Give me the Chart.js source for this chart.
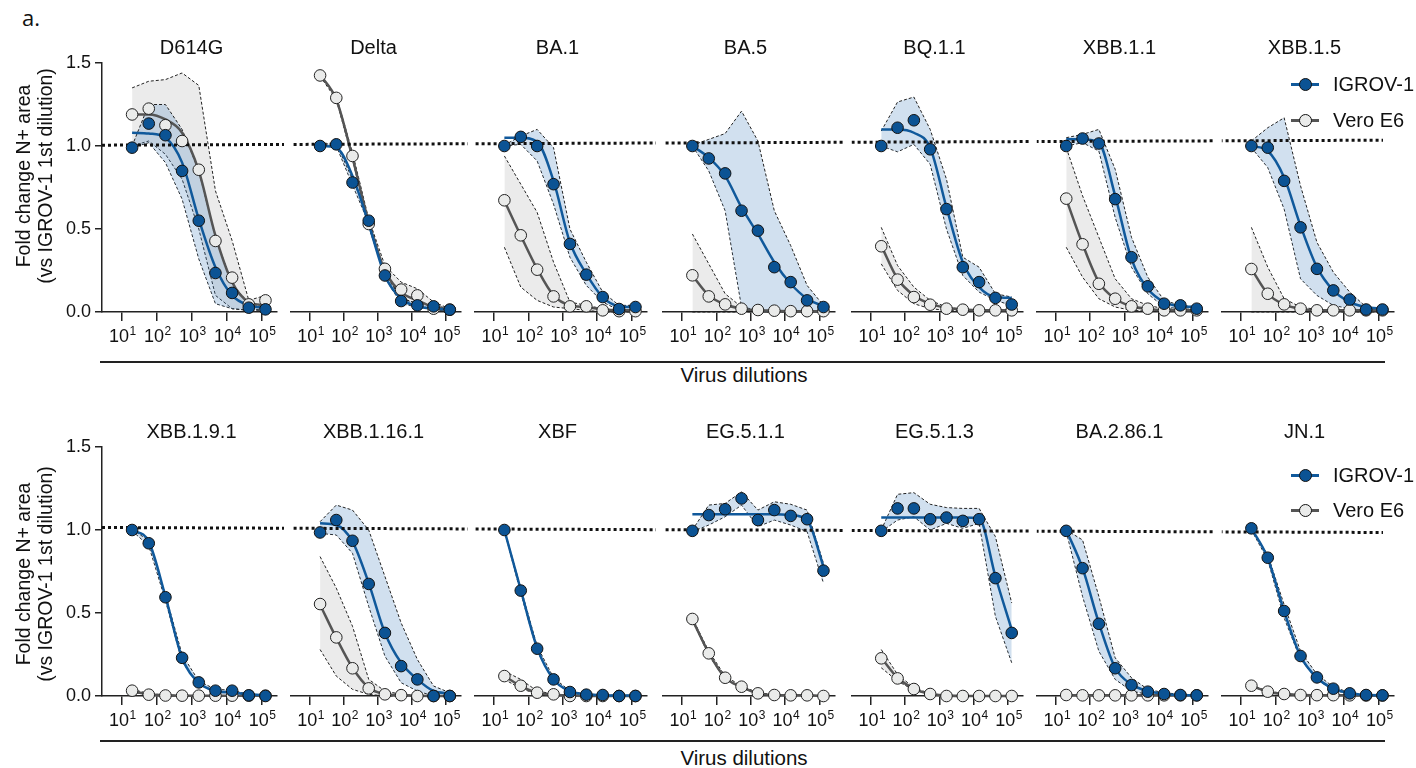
<!DOCTYPE html>
<html>
<head>
<meta charset="utf-8">
<script src="https://cdn.jsdelivr.net/npm/chart.js@4.4.0/dist/chart.umd.min.js"></script>
<style>
  body { margin: 0; width: 1416px; height: 768px; background: #fff; position: relative; overflow: hidden;
         font-family: "Liberation Sans", Arial, sans-serif; color: #111; }
  canvas { position: absolute; }
  .txt { position: absolute; white-space: nowrap; font-size: 20px; line-height: 20px; z-index: 2; }
  .title { text-align: center; width: 180px; }
  .ylab { position: absolute; width: 260px; text-align: center; font-size: 19.5px; line-height: 22px;
          transform: rotate(-90deg); white-space: nowrap; z-index: 2; }
  .hline { position: absolute; height: 1.5px; background: #222; left: 100px; width: 1285px; }
  .lg-line { position: absolute; width: 28px; height: 3px; z-index: 2; }
  .lg-dot { position: absolute; width: 11px; height: 11px; border-radius: 50%; border: 1px solid #111; z-index: 3; }
</style>
</head>
<body>
<div class="txt" style="left:22px;top:6px;font-family:'Open Sans',sans-serif;font-size:22px;line-height:22px;">a.</div>
<script>
const variants = ['D614G', 'Delta', 'BA.1', 'BA.5', 'BQ.1.1', 'XBB.1.1', 'XBB.1.5',
                  'XBB.1.9.1', 'XBB.1.16.1', 'XBF', 'EG.5.1.1', 'EG.5.1.3', 'BA.2.86.1', 'JN.1'];
const dilutions = [20, 60, 180, 540, 1620, 4860, 14580, 43740, 131220];
const xTicks = [10, 100, 1000, 10000, 100000];
const yTicks = [0, 0.5, 1.0, 1.5];
const seriesNames = ['IGROV-1', 'Vero E6'];
// dotted reference line, value at left end and right end of each row
const refLine = [[1.005, 1.035], [1.015, 0.985]];

const igrovMean = [
  [0.99, 1.135, 1.065, 0.85, 0.55, 0.235, 0.115, 0.026, 0.016],
  [1.0, 1.01, 0.78, 0.55, 0.22, 0.066, 0.04, 0.034, 0.014],
  [1.0, 1.055, 1.0, 0.77, 0.41, 0.225, 0.09, 0.018, 0.03],
  [1.0, 0.925, 0.835, 0.61, 0.49, 0.27, 0.18, 0.07, 0.03],
  [1.0, 1.11, 1.155, 0.98, 0.62, 0.27, 0.18, 0.085, 0.045],
  [1.0, 1.045, 1.015, 0.68, 0.33, 0.155, 0.05, 0.04, 0.02],
  [1.0, 0.99, 0.79, 0.51, 0.26, 0.13, 0.075, 0.015, 0.015],
  [1.0, 0.92, 0.595, 0.23, 0.082, 0.032, 0.032, 0.004, 0.0],
  [0.985, 1.06, 0.935, 0.675, 0.38, 0.18, 0.1, 0.0, 0.0],
  [1.0, 0.635, 0.285, 0.1, 0.024, 0.008, 0.006, 0.0, 0.0],
  [0.995, 1.09, 1.125, 1.19, 1.06, 1.12, 1.085, 1.065, 0.755],
  [0.995, 1.13, 1.13, 1.065, 1.075, 1.055, 1.065, 0.71, 0.38],
  [0.995, 0.77, 0.435, 0.167, 0.066, 0.026, 0.012, 0.006, 0.004],
  [1.01, 0.833, 0.512, 0.241, 0.112, 0.044, 0.016, 0.006, 0.004]
];
const igrovFit = [
  [1.08, 1.075, 1.05, 0.9, 0.56, 0.27, 0.1, 0.04, 0.025],
  [1.0, 0.99, 0.82, 0.53, 0.22, 0.08, 0.035, 0.02, 0.015],
  [1.05, 1.05, 1.025, 0.79, 0.42, 0.23, 0.09, 0.035, 0.03],
  [1.0, 0.93, 0.82, 0.63, 0.47, 0.3, 0.17, 0.08, 0.035],
  [1.1, 1.1, 1.08, 0.99, 0.63, 0.3, 0.15, 0.09, 0.085],
  [1.04, 1.04, 1.02, 0.7, 0.32, 0.14, 0.06, 0.035, 0.03],
  [1.0, 0.97, 0.81, 0.52, 0.27, 0.13, 0.06, 0.03, 0.02],
  [1.0, 0.93, 0.6, 0.23, 0.08, 0.03, 0.02, 0.01, 0.005],
  [1.04, 1.03, 0.93, 0.68, 0.38, 0.2, 0.1, 0.03, 0.015],
  [1.0, 0.64, 0.29, 0.1, 0.03, 0.01, 0.005, 0.003, 0.002],
  [1.095, 1.095, 1.095, 1.095, 1.095, 1.095, 1.09, 1.06, 0.78],
  [1.075, 1.075, 1.075, 1.075, 1.075, 1.075, 1.07, 0.72, 0.4],
  [1.0, 0.77, 0.44, 0.17, 0.07, 0.03, 0.012, 0.006, 0.004],
  [1.01, 0.83, 0.51, 0.24, 0.11, 0.045, 0.017, 0.007, 0.004]
];
const igrovHi = [
  [1.0, 1.25, 1.25, 1.1, 0.85, 0.45, 0.17, 0.05, 0.03],
  [1.01, 1.015, 0.8, 0.565, 0.235, 0.085, 0.05, 0.04, 0.02],
  [1.005, 1.06, 1.1, 0.99, 0.5, 0.3, 0.12, 0.04, 0.04],
  [1.005, 1.04, 1.075, 1.21, 1.03, 0.61, 0.4, 0.16, 0.04],
  [1.09, 1.265, 1.295, 1.1, 0.8, 0.33, 0.27, 0.11, 0.09],
  [1.05, 1.07, 1.1, 0.86, 0.45, 0.21, 0.07, 0.04, 0.03],
  [1.03, 1.11, 1.17, 0.76, 0.42, 0.24, 0.12, 0.03, 0.02],
  [1.005, 0.935, 0.61, 0.25, 0.09, 0.04, 0.035, 0.01, 0.005],
  [1.05, 1.15, 1.12, 1.0, 0.72, 0.44, 0.22, 0.06, 0.02],
  [1.005, 0.65, 0.3, 0.11, 0.03, 0.012, 0.008, 0.004, 0.003],
  [1.0, 1.15, 1.16, 1.23, 1.12, 1.17, 1.155, 1.12, 0.8],
  [1.0, 1.215, 1.225, 1.155, 1.135, 1.13, 1.13, 0.96, 0.56],
  [1.0, 0.94, 0.6, 0.23, 0.11, 0.04, 0.02, 0.01, 0.008],
  [1.01, 0.85, 0.55, 0.27, 0.13, 0.055, 0.02, 0.01, 0.005]
];
const igrovLo = [
  [0.99, 1.02, 0.9, 0.68, 0.32, 0.05, 0.02, 0.01, 0.01],
  [1.0, 1.0, 0.765, 0.535, 0.205, 0.05, 0.03, 0.02, 0.008],
  [1.0, 1.01, 0.91, 0.65, 0.33, 0.16, 0.06, 0.01, 0.01],
  [1.0, 0.85, 0.61, 0.03, 0.0, 0.0, 0.0, 0.0, 0.0],
  [1.0, 0.965, 1.01, 0.89, 0.5, 0.22, 0.12, 0.07, 0.04],
  [1.0, 1.02, 0.97, 0.57, 0.27, 0.11, 0.03, 0.02, 0.015],
  [0.99, 0.87, 0.62, 0.2, 0.1, 0.04, 0.02, 0.01, 0.01],
  [0.995, 0.905, 0.575, 0.205, 0.07, 0.022, 0.022, 0.0, 0.0],
  [0.98, 0.97, 0.86, 0.54, 0.24, 0.08, 0.03, 0.0, 0.0],
  [0.995, 0.62, 0.27, 0.09, 0.018, 0.004, 0.003, 0.0, 0.0],
  [0.99, 1.03, 1.08, 1.15, 1.02, 1.06, 1.03, 0.99, 0.68],
  [0.99, 1.06, 1.08, 1.0, 1.04, 1.01, 1.04, 0.48, 0.2],
  [0.99, 0.6, 0.27, 0.1, 0.03, 0.01, 0.005, 0.003, 0.002],
  [1.0, 0.82, 0.47, 0.22, 0.1, 0.035, 0.012, 0.004, 0.002]
];

const veroMean = [
  [1.19, 1.225, 1.125, 1.03, 0.857, 0.428, 0.207, 0.046, 0.07],
  [1.425, 1.29, 0.94, 0.53, 0.26, 0.135, 0.10, 0.02, 0.014],
  [0.673, 0.462, 0.255, 0.094, 0.034, 0.034, 0.01, 0.005, 0.005],
  [0.221, 0.094, 0.046, 0.02, 0.012, 0.008, 0.005, 0.005, 0.005],
  [0.396, 0.195, 0.09, 0.044, 0.02, 0.014, 0.01, 0.01, 0.01],
  [0.683, 0.408, 0.17, 0.08, 0.034, 0.02, 0.01, 0.01, 0.01],
  [0.259, 0.11, 0.046, 0.02, 0.01, 0.01, 0.01, 0.01, 0.01],
  [0.032, 0.008, 0.003, 0.002, 0.002, 0.002, 0.002, 0.002, 0.002],
  [0.554, 0.353, 0.167, 0.046, 0.01, 0.005, 0.0, 0.0, 0.0],
  [0.12, 0.062, 0.02, 0.01, 0.0, 0.0, 0.0, 0.0, 0.0],
  [0.464, 0.257, 0.11, 0.056, 0.016, 0.006, 0.004, 0.004, 0.0],
  [0.227, 0.106, 0.042, 0.012, 0.0, 0.0, 0.0, 0.0, 0.0],
  [0.006, 0.004, 0.004, 0.004, 0.004, 0.004, 0.004, 0.004, 0.004],
  [0.062, 0.026, 0.012, 0.006, 0.005, 0.005, 0.004, 0.003, 0.003]
];
const veroFit = [
  [1.19, 1.19, 1.16, 1.08, 0.85, 0.46, 0.18, 0.06, 0.04],
  [1.43, 1.28, 0.93, 0.54, 0.25, 0.12, 0.07, 0.03, 0.015],
  [0.67, 0.46, 0.26, 0.1, 0.04, 0.03, 0.015, 0.01, 0.01],
  [0.22, 0.1, 0.045, 0.02, 0.01, 0.008, 0.005, 0.005, 0.005],
  [0.4, 0.2, 0.1, 0.05, 0.025, 0.015, 0.01, 0.01, 0.01],
  [0.68, 0.41, 0.18, 0.08, 0.035, 0.02, 0.01, 0.01, 0.01],
  [0.26, 0.11, 0.045, 0.02, 0.01, 0.01, 0.01, 0.01, 0.01],
  [0.03, 0.01, 0.004, 0.002, 0.002, 0.002, 0.002, 0.002, 0.002],
  [0.55, 0.35, 0.17, 0.05, 0.012, 0.005, 0.002, 0.0, 0.0],
  [0.12, 0.06, 0.02, 0.008, 0.003, 0.0, 0.0, 0.0, 0.0],
  [0.46, 0.26, 0.11, 0.055, 0.016, 0.006, 0.004, 0.004, 0.0],
  [0.23, 0.11, 0.045, 0.012, 0.003, 0.0, 0.0, 0.0, 0.0],
  [0.006, 0.004, 0.004, 0.004, 0.004, 0.004, 0.004, 0.004, 0.004],
  [0.062, 0.026, 0.012, 0.006, 0.005, 0.005, 0.004, 0.003, 0.003]
];
const veroHi = [
  [1.35, 1.39, 1.4, 1.44, 1.365, 0.73, 0.43, 0.07, 0.1],
  [1.43, 1.3, 0.96, 0.56, 0.28, 0.18, 0.14, 0.06, 0.02],
  [0.94, 0.77, 0.6, 0.3, 0.06, 0.04, 0.02, 0.01, 0.01],
  [0.47, 0.29, 0.11, 0.03, 0.012, 0.008, 0.005, 0.005, 0.005],
  [0.51, 0.28, 0.15, 0.07, 0.03, 0.015, 0.01, 0.01, 0.01],
  [0.99, 0.7, 0.45, 0.2, 0.08, 0.04, 0.02, 0.015, 0.01],
  [0.51, 0.27, 0.08, 0.03, 0.015, 0.01, 0.01, 0.01, 0.01],
  [0.04, 0.015, 0.006, 0.004, 0.003, 0.003, 0.003, 0.003, 0.003],
  [0.84, 0.65, 0.42, 0.1, 0.03, 0.01, 0.003, 0.0, 0.0],
  [0.15, 0.1, 0.03, 0.012, 0.004, 0.0, 0.0, 0.0, 0.0],
  [0.47, 0.27, 0.12, 0.06, 0.02, 0.008, 0.005, 0.005, 0.0],
  [0.28, 0.13, 0.05, 0.015, 0.004, 0.0, 0.0, 0.0, 0.0],
  [0.006, 0.004, 0.004, 0.004, 0.004, 0.004, 0.004, 0.004, 0.004],
  [0.065, 0.03, 0.014, 0.007, 0.005, 0.005, 0.004, 0.003, 0.003]
];
const veroLo = [
  [1.0, 1.03, 0.95, 0.8, 0.5, 0.1, 0.02, 0.01, 0.02],
  [1.42, 1.28, 0.92, 0.51, 0.23, 0.08, 0.05, 0.01, 0.01],
  [0.39, 0.15, 0.07, 0.03, 0.02, 0.01, 0.0, 0.0, 0.0],
  [0.0, 0.0, 0.0, 0.0, 0.0, 0.0, 0.0, 0.0, 0.0],
  [0.29, 0.13, 0.05, 0.02, 0.01, 0.01, 0.01, 0.01, 0.01],
  [0.39, 0.21, 0.08, 0.03, 0.01, 0.005, 0.005, 0.005, 0.005],
  [0.0, 0.0, 0.0, 0.0, 0.0, 0.0, 0.0, 0.0, 0.0],
  [0.025, 0.004, 0.0, 0.0, 0.0, 0.0, 0.0, 0.0, 0.0],
  [0.28, 0.12, 0.04, 0.01, 0.0, 0.0, 0.0, 0.0, 0.0],
  [0.1, 0.045, 0.012, 0.005, 0.0, 0.0, 0.0, 0.0, 0.0],
  [0.455, 0.245, 0.1, 0.05, 0.012, 0.004, 0.003, 0.003, 0.0],
  [0.17, 0.09, 0.035, 0.01, 0.0, 0.0, 0.0, 0.0, 0.0],
  [0.004, 0.003, 0.003, 0.003, 0.003, 0.003, 0.003, 0.003, 0.003],
  [0.058, 0.022, 0.01, 0.005, 0.004, 0.004, 0.003, 0.002, 0.002]
];

// layout of the panels (page pixels)
const tick1 = [122, 304, 488, 676, 865, 1050, 1235]; // where 10^1 sits in each column
const decade = 35.7;
const rowTop = [63, 447];   // pixel of y = 1.5
const plotH = 249;
const plotW = 179;
const dotStart = 102, dotEnd = 1383;

const BLUE = '#0b5394';
const FONT = '"Liberation Sans", Arial, sans-serif';
Chart.defaults.font.family = FONT;
Chart.defaults.color = '#111';

function pts(arr) {
  return dilutions.map((d, i) => ({ x: d, y: arr[i] }));
}

function addText(text, cls, left, top, extra) {
  const el = document.createElement('div');
  el.className = cls;
  el.textContent = text;
  el.style.left = left + 'px';
  el.style.top = top + 'px';
  if (extra) Object.assign(el.style, extra);
  document.body.appendChild(el);
  return el;
}

const dottedLine = {
  id: 'dottedLine',
  afterDatasetDraw(chart, args) {
    if (args.index !== 2) return;
    const o = chart.options.plugins.dottedLine;
    const y = chart.scales.y, ctx = chart.ctx, area = chart.chartArea;
    const x0 = area.left;
    const x1 = o.last ? (dotEnd - o.left) : chart.width;
    const valAt = px => {
      const t = (px + o.left - dotStart) / (dotEnd - dotStart);
      return o.ref[0] + (o.ref[1] - o.ref[0]) * t;
    };
    ctx.save();
    ctx.strokeStyle = '#111';
    ctx.lineWidth = 3;
    ctx.setLineDash([3, 3]);
    ctx.lineDashOffset = -((x0 + o.left) % 6);
    ctx.beginPath();
    ctx.moveTo(x0, y.getPixelForValue(valAt(x0)));
    ctx.lineTo(x1, y.getPixelForValue(valAt(x1)));
    ctx.stroke();
    ctx.restore();
  }
};

const tickLabels = {
  id: 'tickLabels',
  afterDraw(chart) {
    const sx = chart.scales.x, ctx = chart.ctx;
    const base = chart.chartArea.bottom + 30;
    ctx.save();
    ctx.fillStyle = '#111';
    ctx.textBaseline = 'alphabetic';
    xTicks.forEach(v => {
      const px = sx.getPixelForValue(v);
      ctx.font = '18px ' + FONT;
      ctx.textAlign = 'right';
      ctx.fillText('10', px + 7.5, base);
      ctx.font = '12px ' + FONT;
      ctx.textAlign = 'left';
      ctx.fillText(String(Math.round(Math.log10(v))), px + 8, base - 7);
    });
    ctx.restore();
  }
};

function bandLine(arr, fillColor) {
  return {
    data: pts(arr),
    borderColor: '#222',
    borderWidth: 1,
    borderDash: [3, 2],
    pointRadius: 0,
    tension: 0,
    fill: fillColor ? '+1' : false,
    backgroundColor: fillColor || 'transparent',
    clip: false
  };
}

variants.forEach((name, k) => {
  const row = Math.floor(k / 7), col = k % 7;
  const xL = tick1[col] - 20;
  const canvasLeft = col === 0 ? 0 : xL;
  const nextLeft = col < 6 ? tick1[col + 1] - 20 : 1416;
  const width = nextLeft - canvasLeft;
  const yW = col === 0 ? xL : 0;
  const top = rowTop[row] - 20;
  const height = 20 + plotH + 44;

  const canvas = document.createElement('canvas');
  canvas.width = width;
  canvas.height = height;
  canvas.style.left = canvasLeft + 'px';
  canvas.style.top = top + 'px';
  canvas.style.width = width + 'px';
  canvas.style.height = height + 'px';
  document.body.appendChild(canvas);

  addText(name, 'txt title', xL + plotW / 2 - 90, rowTop[row] - 26);

  new Chart(canvas, {
    type: 'line',
    data: {
      datasets: [
        { label: seriesNames[0], data: pts(igrovMean[k]), showLine: false, pointRadius: 5.8,
          pointBackgroundColor: BLUE, pointBorderColor: '#111', pointBorderWidth: 1, clip: false },
        { label: seriesNames[1], data: pts(veroMean[k]), showLine: false, pointRadius: 5.8,
          pointBackgroundColor: '#eaebea', pointBorderColor: '#222', pointBorderWidth: 1, clip: false },
        { data: pts(igrovFit[k]), borderColor: '#10599b', borderWidth: 2.5, pointRadius: 0,
          cubicInterpolationMode: 'monotone', clip: false },
        { data: pts(veroFit[k]), borderColor: '#555', borderWidth: 2.5, pointRadius: 0,
          cubicInterpolationMode: 'monotone', clip: false },
        bandLine(igrovHi[k], 'rgba(70,130,190,0.25)'),
        bandLine(igrovLo[k], null),
        bandLine(veroHi[k], 'rgba(0,0,0,0.08)'),
        bandLine(veroLo[k], null)
      ]
    },
    options: {
      responsive: false,
      maintainAspectRatio: false,
      animation: false,
      devicePixelRatio: 1,
      layout: { padding: { left: 0, top: 20, bottom: 0, right: width - yW - plotW } },
      plugins: {
        legend: { display: false },
        tooltip: { enabled: false },
        dottedLine: { ref: refLine[row], left: canvasLeft, last: col === 6 }
      },
      scales: {
        x: {
          type: 'logarithmic',
          min: Math.pow(10, 1 - 20 / decade),
          max: Math.pow(10, 1 + 159 / decade),
          afterBuildTicks: s => { s.ticks = xTicks.map(v => ({ value: v })); },
          afterFit: s => { s.height = 44; },
          ticks: { callback: () => '', font: { size: 1 } },
          grid: { display: true, drawOnChartArea: false, drawTicks: true, tickLength: 9, color: '#222', lineWidth: 1.5 },
          border: { display: true, color: '#222', width: 1.5 }
        },
        y: {
          display: col === 0,
          min: 0,
          max: 1.5,
          afterBuildTicks: s => { s.ticks = yTicks.map(v => ({ value: v })); },
          afterFit: s => { s.width = yW; },
          ticks: { callback: v => v.toFixed(1), font: { size: 18 }, color: '#111', padding: 4 },
          grid: { display: true, drawOnChartArea: false, drawTicks: true, tickLength: 7, color: '#222', lineWidth: 1.5 },
          border: { display: true, color: '#222', width: 1.5 }
        }
      }
    },
    plugins: [dottedLine, tickLabels]
  });
});

// axis titles, bottom rules and legends
[[176, 361, 375, 84, 120], [574, 740, 758, 475, 510]].forEach(([yc, ruleY, xlabY, lg1, lg2]) => {
  const yl = document.createElement('div');
  yl.className = 'ylab';
  yl.innerHTML = 'Fold change N+ area<br>(vs IGROV-1 1st dilution)';
  yl.style.left = (34 - 130) + 'px';
  yl.style.top = (yc - 22) + 'px';
  document.body.appendChild(yl);

  const rule = document.createElement('div');
  rule.className = 'hline';
  rule.style.top = ruleY + 'px';
  document.body.appendChild(rule);

  addText('Virus dilutions', 'txt', 744 - 70, xlabY - 10, { width: '140px', textAlign: 'center', fontSize: '20.5px' });

  [[lg1, BLUE, '#10599b'], [lg2, '#eaebea', '#555']].forEach(([y, fillC, lineC], i) => {
    const ln = document.createElement('div');
    ln.className = 'lg-line';
    ln.style.left = '1291px';
    ln.style.top = (y - 1.5) + 'px';
    ln.style.background = lineC;
    document.body.appendChild(ln);
    const dot = document.createElement('div');
    dot.className = 'lg-dot';
    dot.style.left = (1305 - 6.5) + 'px';
    dot.style.top = (y - 6.5) + 'px';
    dot.style.background = fillC;
    document.body.appendChild(dot);
    addText(seriesNames[i], 'txt', 1333, y - 10);
  });
});
</script>
</body>
</html>
